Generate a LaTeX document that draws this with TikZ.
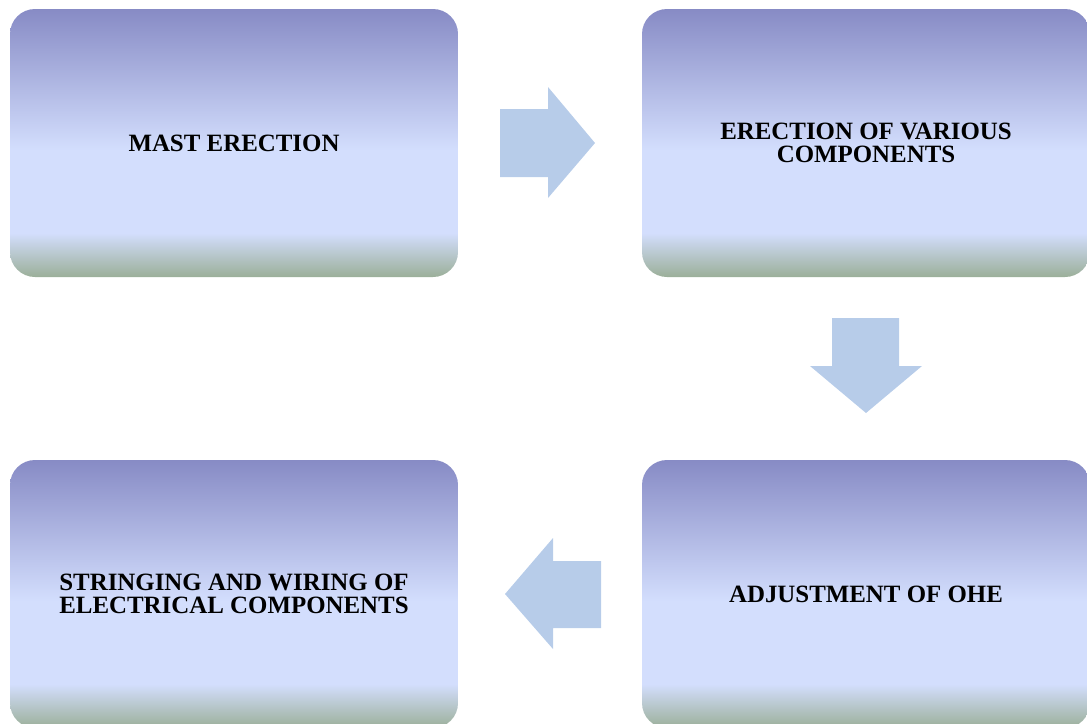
\documentclass[tikz,border=0pt]{standalone}
\usepackage{fontspec}
\setmainfont{Liberation Serif}
\definecolor{bpurple}{RGB}{135,139,197}
\definecolor{blight}{RGB}{211,222,253}
\definecolor{bgreen}{RGB}{155,175,153}
\definecolor{arrowblue}{RGB}{183,204,233}
\pgfdeclareverticalshading{boxshade}{100bp}{color(0bp)=(bgreen); color(25bp)=(bgreen); color(33.2bp)=(blight); color(48.7bp)=(blight); color(75bp)=(bpurple); color(100bp)=(bpurple)}
\begin{document}
\begin{tikzpicture}[x=1pt,y=-1pt,
  stagebox/.style={rectangle, rounded corners=25pt, shading=boxshade, draw=none,
    minimum width=448pt, minimum height=268pt, inner sep=0pt, align=center,
    font=\fontsize{24.9}{23.5}\selectfont\bfseries},
  blockarrow/.style={fill=arrowblue, draw=none}]
\useasboundingbox (0,0) rectangle (1087,723);
\node[stagebox] (mast) at (234,143) {MAST ERECTION};
\node[stagebox] (comp) at (866,143) {ERECTION OF VARIOUS\\COMPONENTS};
\node[stagebox] (ohe) at (866,594) {ADJUSTMENT OF OHE};
\node[stagebox] (wiring) at (234,594) {STRINGING AND WIRING OF\\ELECTRICAL COMPONENTS};
% right arrow
\fill[blockarrow] (500,109) -- (548,109) -- (548,87) -- (595,143) -- (548,198) -- (548,177) -- (500,177) -- cycle;
% down arrow
\fill[blockarrow] (832,318) -- (899,318) -- (899,366) -- (922,366) -- (866,413) -- (810,366) -- (832,366) -- cycle;
% left arrow
\fill[blockarrow] (601,561) -- (553,561) -- (553,538) -- (505,594) -- (553,649) -- (553,628) -- (601,628) -- cycle;
\end{tikzpicture}
\end{document}
